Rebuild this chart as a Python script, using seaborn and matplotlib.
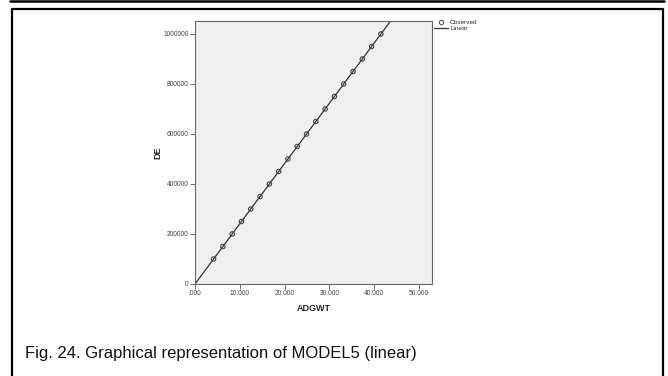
import numpy as np
import pandas as pd
import matplotlib
matplotlib.use("Agg")
import matplotlib.pyplot as plt
import seaborn as sns
from matplotlib.lines import Line2D

# Observed values
adgwt = [4.15, 6.22, 8.30, 10.37, 12.45, 14.52, 16.60, 18.67, 20.75, 22.82,
         24.90, 26.97, 29.05, 31.12, 33.20, 35.27, 37.34, 39.42, 41.49]
de = [100000, 150000, 200000, 250000, 300000, 350000, 400000, 450000, 500000,
      550000, 600000, 650000, 700000, 750000, 800000, 850000, 900000, 950000,
      1000000]

x_ticks = [0, 10, 20, 30, 40, 50]
x_tick_labels = [".000", "10.000", "20.000", "30.000", "40.000", "50.000"]
y_ticks = [0, 200000, 400000, 600000, 800000, 1000000]
y_tick_labels = ["0", "200000", "400000", "600000", "800000", "1000000"]

sns.set_theme(style="white")
plt.rcParams["font.family"] = ["Liberation Sans", "DejaVu Sans"]

df = pd.DataFrame({"ADGWT": adgwt, "DE": de})

fig = plt.figure(figsize=(6.68, 3.76), dpi=100)
W, H = 668, 376
ax = fig.add_axes([195 / W, 1 - 284 / H, (432 - 195) / W, (284 - 21) / H])
ax.set_facecolor("#f0f0f0")

xlim = (0, 52.9)
ylim = (0, 1052000)

# Linear model through the observed points
slope, intercept = np.polyfit(df["ADGWT"], df["DE"], 1)
line_df = pd.DataFrame({"ADGWT": list(xlim),
                        "DE": [intercept + slope * v for v in xlim]})
sns.lineplot(data=line_df, x="ADGWT", y="DE", ax=ax, color="#333333",
             linewidth=0.9, legend=False)
sns.scatterplot(data=df, x="ADGWT", y="DE", ax=ax, marker="o", s=10,
                facecolor="none", edgecolor="#444444", linewidth=0.8,
                legend=False, zorder=3)
ax.set_xlim(*xlim)
ax.set_ylim(*ylim)

ax.set_xticks(x_ticks)
ax.set_xticklabels(x_tick_labels)
ax.set_yticks(y_ticks)
ax.set_yticklabels(y_tick_labels)
ax.tick_params(axis="both", direction="out", length=3.5, width=0.6,
               color="#555555", labelsize=4.8, labelcolor="#444444", pad=1,
               bottom=True, left=True)
for s in ax.spines.values():
    s.set_color("#666666")
    s.set_linewidth(0.8)

ax.set_xlabel("ADGWT", fontsize=6.5, fontweight="bold", labelpad=5)
ax.set_ylabel("DE", fontsize=6.5, fontweight="bold", labelpad=1)

handles = [
    Line2D([], [], marker="o", linestyle="none", markerfacecolor="none",
           markeredgecolor="#444444", markersize=3.2, markeredgewidth=0.7),
    Line2D([], [], color="#333333", linewidth=0.9),
]
fig.legend(handles, ["Observed", "Linear"], loc="upper left",
           bbox_to_anchor=(433 / W, 1 - 18 / H), frameon=False,
           fontsize=4.6, handlelength=2.2, handletextpad=0.3,
           labelspacing=0.15, borderaxespad=0, borderpad=0.2)

# Page frame
fig.add_artist(Line2D([10 / W, 664 / W], [1 - 0.8 / H, 1 - 0.8 / H],
                      transform=fig.transFigure, color="black", linewidth=1.8))
fig.add_artist(Line2D([12 / W, 12 / W, 663 / W, 663 / W],
                      [0, 1 - 8.5 / H, 1 - 8.5 / H, 0],
                      transform=fig.transFigure, color="black", linewidth=1.6))

fig.text(25 / W, 1 - 358 / H, "Fig. 24. Graphical representation of MODEL5 (linear)",
         fontsize=12, color="#111111", ha="left", va="baseline")

fig.savefig("out.png", dpi=100)
